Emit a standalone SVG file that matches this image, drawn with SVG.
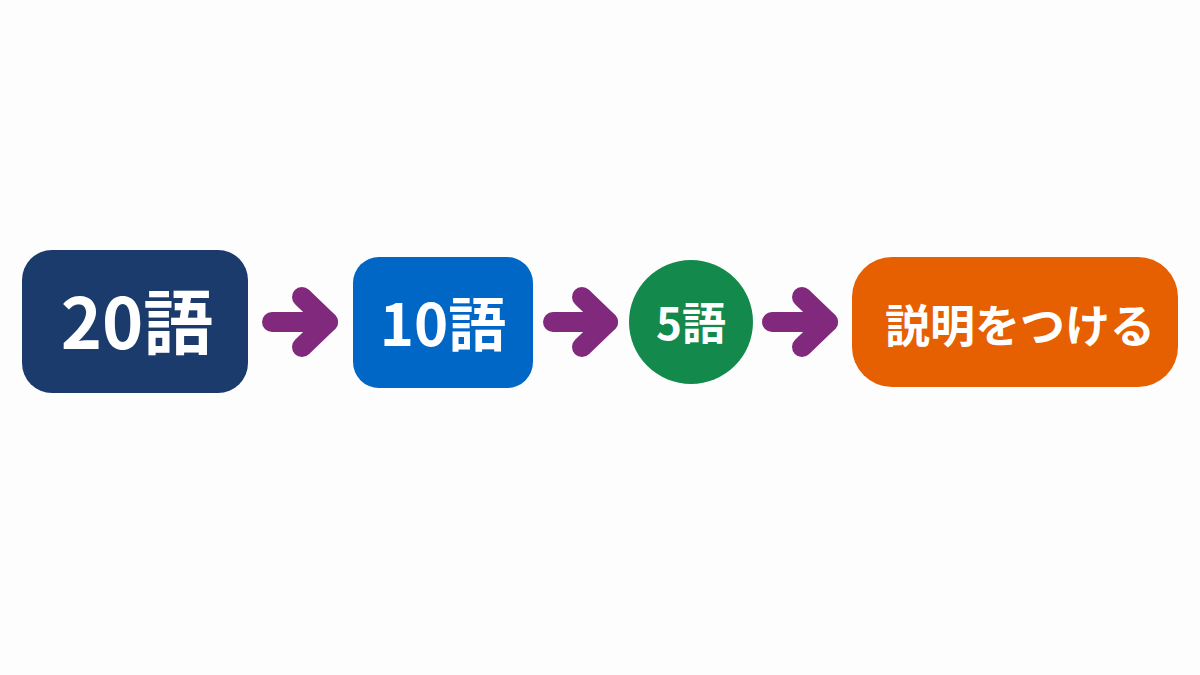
<svg xmlns="http://www.w3.org/2000/svg" width="1200" height="675" viewBox="0 0 1200 675">
<style>
.t{font-family:"Noto Sans CJK JP","Noto Sans",sans-serif;font-weight:700;fill:#ffffff;text-anchor:middle}
.a{fill:none;stroke:#812a7d;stroke-width:20;stroke-linecap:round;stroke-linejoin:round}
</style>
<rect width="1200" height="675" fill="#fdfdfd"/>
<g id="connectors">
<g id="arrow1"><path class="a" d="M272 322 H328"/><path class="a" d="M302 297 L328 322 L302 347"/></g>
<g id="arrow2"><path class="a" d="M553 322 H608"/><path class="a" d="M582 297 L608 322 L582 347"/></g>
<g id="arrow3"><path class="a" d="M772 322 H828"/><path class="a" d="M802 297 L828 322 L802 347"/></g>
</g>
<g id="node1"><rect x="22" y="250" width="226" height="143" rx="30" fill="#1a3b6b"/><text class="t" x="137" y="349" font-size="70">20語</text></g>
<g id="node2"><rect x="353" y="257" width="180" height="131" rx="26" fill="#0067c6"/><text class="t" x="443" y="346" font-size="58">10語</text></g>
<g id="node3"><circle cx="691" cy="322" r="62" fill="#138a4c"/><text class="t" x="691" y="340" font-size="44">5語</text></g>
<g id="node4"><rect x="852" y="257" width="326" height="130" rx="40" fill="#e65f00"/><text class="t" x="1020" y="343" font-size="45">説明をつける</text></g>
</svg>
